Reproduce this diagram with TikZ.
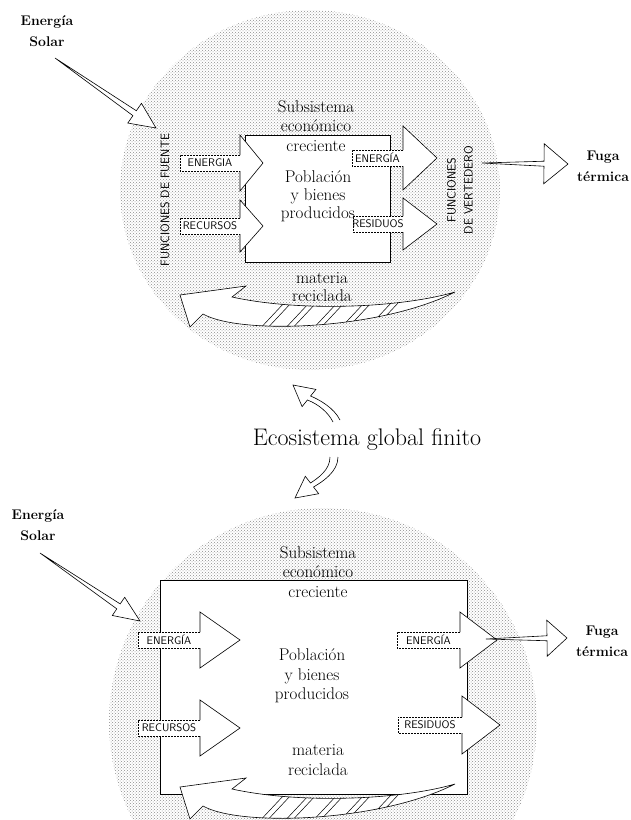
\documentclass[tikz,border=0pt]{standalone}
\usepackage{fontspec}
\usetikzlibrary{calc,patterns}

\tikzset{
  stipple/.style={pattern=crosshatch dots, pattern color=black!45},
  sysbox/.style={draw, fill=white, line width=1pt, inner sep=0pt, anchor=north west},
  serif/.style={font=\fontsize{17}{19.5}\selectfont, align=center, inner sep=0pt},
  boldlbl/.style={font=\fontsize{14}{21}\selectfont\bfseries, align=center, inner sep=0pt},
  caps/.style={font=\fontsize{11}{12}\selectfont\sffamily, inner sep=0pt},
  vcaps/.style={font=\fontsize{12}{17}\selectfont\sffamily, align=center, inner sep=0pt, rotate=90},
  hollow/.style={draw, fill=white, line width=0.6pt, line join=miter},
}

% block arrow: name, label, x start, x base, x tip, y middle, half head
\newcommand{\flowarrow}[7]{%
  \fill[white] (#3,#6-8) -- (#4,#6-8) -- (#4,#6-#7) -- (#5,#6) -- (#4,#6+#7) -- (#4,#6+8) -- (#3,#6+8) -- cycle;
  \draw[dash pattern=on 2pt off 1pt, line width=0.4pt] (#4,#6-8) -- (#3,#6-8) -- (#3,#6+8) -- (#4,#6+8);
  \draw[line width=0.6pt] (#4,#6-8) -- (#4,#6-#7) -- (#5,#6) -- (#4,#6+#7) -- (#4,#6+8);
  \node[caps] (#1) at ({(#3+#4)/2},#6) {#2};
}

% thin hollow arrow: from, to, half shaft, half head, head length
\newcommand{\hollowarrow}[5]{%
  \coordinate (hb) at ($(#2)!#5!(#1)$);
  \draw[hollow] (#1) -- ($(hb)!#3!-90:(#1)$) -- ($(hb)!#4!-90:(#1)$) -- (#2)
    -- ($(hb)!#4!90:(#1)$) -- ($(hb)!#3!90:(#1)$) -- cycle;
}

% recycled matter arrow, shifted down by #1
\newcommand{\recycle}[1]{%
  \begin{scope}[shift={(0,#1)}]
    \draw[hollow] (455,292) .. controls (400,308) and (300,312) .. (232,297) -- (246,286) -- (180,295)
      -- (190,327) -- (203,314) .. controls (240,335) and (380,330) .. (455,292);
    \begin{scope}
      \clip (455,292) .. controls (400,308) and (300,312) .. (232,297) -- (203,314)
        .. controls (240,335) and (380,330) .. (455,292);
      \foreach \x in {255,262,280,287,308,315,335,342,362,369}
        \draw[line width=0.5pt] (\x,334) -- (\x+30,302);
    \end{scope}
  \end{scope}
}

\begin{document}
\begin{tikzpicture}[x=1pt, y=-1pt]
  \useasboundingbox (0,0) rectangle (631,820);
  \begin{scope}
    \clip (0,0) rectangle (631,820);
    \fill[stipple] (310,190) ellipse [x radius=190pt, y radius=180pt];
    \fill[stipple] (323,722) circle (214pt);
  \end{scope}

  %%% upper ecosystem
  \node[sysbox, minimum width=145pt, minimum height=127pt] (topbox) at (245,135) {};
  \flowarrow{inEnergyTop}{ENERGIA}{180}{240}{263}{163}{28}
  \flowarrow{inResTop}{RECURSOS}{180}{240}{263}{226}{26}
  \flowarrow{outEnergyTop}{ENERGÍA}{352}{403}{437}{158}{32}
  \flowarrow{outWasteTop}{RESIDUOS}{353}{403}{437}{224}{26}
  \recycle{0}

  \node[serif] (subTop) at (316,126) {Subsistema\\económico\\creciente};
  \node[serif, font=\fontsize{17}{18}\selectfont] (popTop) at (318,196) {Población\\y bienes\\producidos};
  \node[serif, font=\fontsize{17}{18}\selectfont] (matTop) at (322,287) {materia\\reciclada};
  \node[vcaps] (sourceTop) at (165,200) {FUNCIONES DE FUENTE};
  \node[vcaps] (sinkTop) at (460,190) {FUNCIONES\\DE VERTEDERO};

  \node[boldlbl] (solarTop) at (47,31) {Energía\\Solar};
  \coordinate (solarTopA) at (55,58);
  \coordinate (solarTopB) at (156,128);
  \hollowarrow{solarTopA}{solarTopB}{3pt}{12pt}{26pt}

  \node[boldlbl] (heatTop) at (603,166) {Fuga\\térmica};
  \coordinate (heatTopA) at (482,163);
  \coordinate (heatTopB) at (568,164);
  \hollowarrow{heatTopA}{heatTopB}{2.5pt}{20pt}{24pt}

  %%% global
  \node[font=\fontsize{24}{26}\selectfont, inner sep=0pt] (global) at (367,440) {Ecosistema global finito};
  \draw[hollow] (340,420) .. controls (334,408) and (320,400) .. (310.6,396) -- (315.9,389.4) -- (293,385)
    -- (302.1,406.6) -- (307.4,400) .. controls (318,404) and (328,412) .. (333,422);
  \draw[hollow] (330,457) .. controls (330,470) and (318,478) .. (310.5,483) -- (305.3,476.3) -- (295,498)
    -- (318.7,493.7) -- (313.5,487) .. controls (322,482) and (338,472) .. (338,457);

  %%% lower ecosystem
  \node[sysbox, minimum width=307pt, minimum height=214pt] (lowbox) at (160,580) {};
  \flowarrow{inEnergyLow}{ENERGÍA}{138}{200}{240}{640}{28}
  \flowarrow{inResLow}{RECURSOS}{138}{200}{240}{728}{28}
  \flowarrow{outEnergyLow}{ENERGÍA}{397}{460}{497}{640}{28}
  \flowarrow{outWasteLow}{RESIDUOS}{398}{462}{500}{725}{29}
  \begin{scope}
    \clip (0,0) rectangle (631,820);
    \recycle{492}
  \end{scope}

  \node[serif] (subLow) at (318,572) {Subsistema\\económico\\creciente};
  \node[serif] (popLow) at (312,676) {Población\\y bienes\\producidos};
  \node[serif, font=\fontsize{17}{20}\selectfont] (matLow) at (318,760) {materia\\reciclada};

  \node[boldlbl] (solarLow) at (38,525) {Energía\\Solar};
  \coordinate (solarLowA) at (40,553);
  \coordinate (solarLowB) at (140,621);
  \hollowarrow{solarLowA}{solarLowB}{3pt}{11pt}{26pt}

  \node[boldlbl] (heatLow) at (602,641) {Fuga\\térmica};
  \coordinate (heatLowA) at (486,639);
  \coordinate (heatLowB) at (567,638);
  \hollowarrow{heatLowA}{heatLowB}{2.5pt}{18pt}{20pt}
\end{tikzpicture}
\end{document}
